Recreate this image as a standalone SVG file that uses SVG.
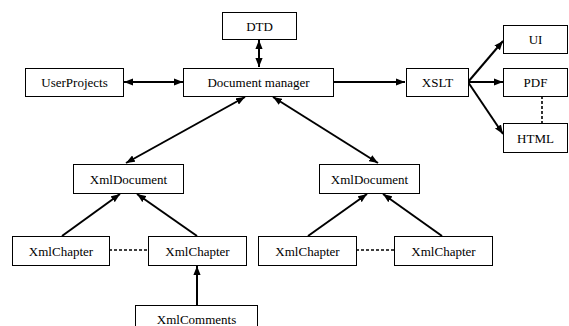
<svg xmlns="http://www.w3.org/2000/svg" width="569" height="326" viewBox="0 0 569 326">
<style>
.box{fill:#fff;stroke:#000;stroke-width:1}
.lbl{font-family:'Liberation Serif','Times New Roman','DejaVu Serif',serif;font-size:13px;fill:#000;text-anchor:middle}
.ln{stroke:#000;stroke-width:2;fill:none}
.dash{stroke:#000;stroke-width:1.6;fill:none;stroke-dasharray:3,2}
</style>
<defs>
<marker id="ah" viewBox="0 0 10 8" refX="10" refY="4" markerWidth="9" markerHeight="7.5" markerUnits="userSpaceOnUse" orient="auto-start-reverse">
<path d="M0,0 L10,4 L0,8 Z" fill="#000"/>
</marker>
</defs>
<rect width="569" height="326" fill="#fff"/>
<g id="connectors">
<line class="ln" x1="124" y1="82" x2="183" y2="82" marker-start="url(#ah)" marker-end="url(#ah)"/>
<line class="ln" x1="259" y1="40" x2="259" y2="67" marker-start="url(#ah)" marker-end="url(#ah)"/>
<line class="ln" x1="333" y1="82" x2="405" y2="82" marker-end="url(#ah)"/>
<line class="ln" x1="468" y1="82" x2="503" y2="41" marker-end="url(#ah)"/>
<line class="ln" x1="468" y1="82" x2="503" y2="82" marker-end="url(#ah)"/>
<line class="ln" x1="468" y1="82" x2="503" y2="134" marker-end="url(#ah)"/>
<line class="dash" x1="542" y1="96" x2="542" y2="123"/>
<line class="ln" x1="245" y1="97" x2="126" y2="163" marker-start="url(#ah)" marker-end="url(#ah)"/>
<line class="ln" x1="273" y1="97" x2="378" y2="163" marker-start="url(#ah)" marker-end="url(#ah)"/>
<line class="ln" x1="62" y1="236" x2="120" y2="194" marker-end="url(#ah)"/>
<line class="ln" x1="197" y1="236" x2="137" y2="194" marker-end="url(#ah)"/>
<line class="dash" x1="109" y1="250" x2="148" y2="250"/>
<line class="ln" x1="197" y1="305" x2="197" y2="266" marker-end="url(#ah)"/>
<line class="ln" x1="308" y1="236" x2="367" y2="194" marker-end="url(#ah)"/>
<line class="ln" x1="442" y1="236" x2="383" y2="194" marker-end="url(#ah)"/>
<line class="dash" x1="356" y1="250" x2="394" y2="250"/>
</g>
<g id="dtd"><rect class="box" x="222.5" y="12.5" width="74" height="27"/><text class="lbl" x="259.5" y="30.5">DTD</text></g>
<g id="userprojects"><rect class="box" x="25.5" y="68.5" width="98" height="28"/><text class="lbl" x="74.5" y="86.5">UserProjects</text></g>
<g id="docmanager"><rect class="box" x="183.5" y="68.5" width="150" height="28"/><text class="lbl" x="258.5" y="86.5">Document manager</text></g>
<g id="xslt"><rect class="box" x="406.5" y="68.5" width="62" height="28"/><text class="lbl" x="437.5" y="86.5">XSLT</text></g>
<g id="ui"><rect class="box" x="503.5" y="25.5" width="64" height="28"/><text class="lbl" x="535.5" y="43.5">UI</text></g>
<g id="pdf"><rect class="box" x="503.5" y="68.5" width="64" height="28"/><text class="lbl" x="535.5" y="86.5">PDF</text></g>
<g id="html"><rect class="box" x="503.5" y="123.5" width="64" height="29"/><text class="lbl" x="535.5" y="142.5">HTML</text></g>
<g id="xmldoc-left"><rect class="box" x="73.5" y="164.5" width="110" height="29"/><text class="lbl" x="128.5" y="183.5">XmlDocument</text></g>
<g id="xmldoc-right"><rect class="box" x="319.5" y="164.5" width="100" height="29"/><text class="lbl" x="369.5" y="183.5">XmlDocument</text></g>
<g id="xmlchapter-l1"><rect class="box" x="12.5" y="236.5" width="97" height="29"/><text class="lbl" x="61" y="255.5">XmlChapter</text></g>
<g id="xmlchapter-l2"><rect class="box" x="148.5" y="236.5" width="98" height="29"/><text class="lbl" x="197.5" y="255.5">XmlChapter</text></g>
<g id="xmlchapter-r1"><rect class="box" x="258.5" y="236.5" width="98" height="29"/><text class="lbl" x="307.5" y="255.5">XmlChapter</text></g>
<g id="xmlchapter-r2"><rect class="box" x="394.5" y="236.5" width="98" height="29"/><text class="lbl" x="443.5" y="255.5">XmlChapter</text></g>
<g id="xmlcomments"><rect class="box" x="135.5" y="305.5" width="122" height="30"/><text class="lbl" x="196.5" y="324">XmlComments</text></g>
</svg>
